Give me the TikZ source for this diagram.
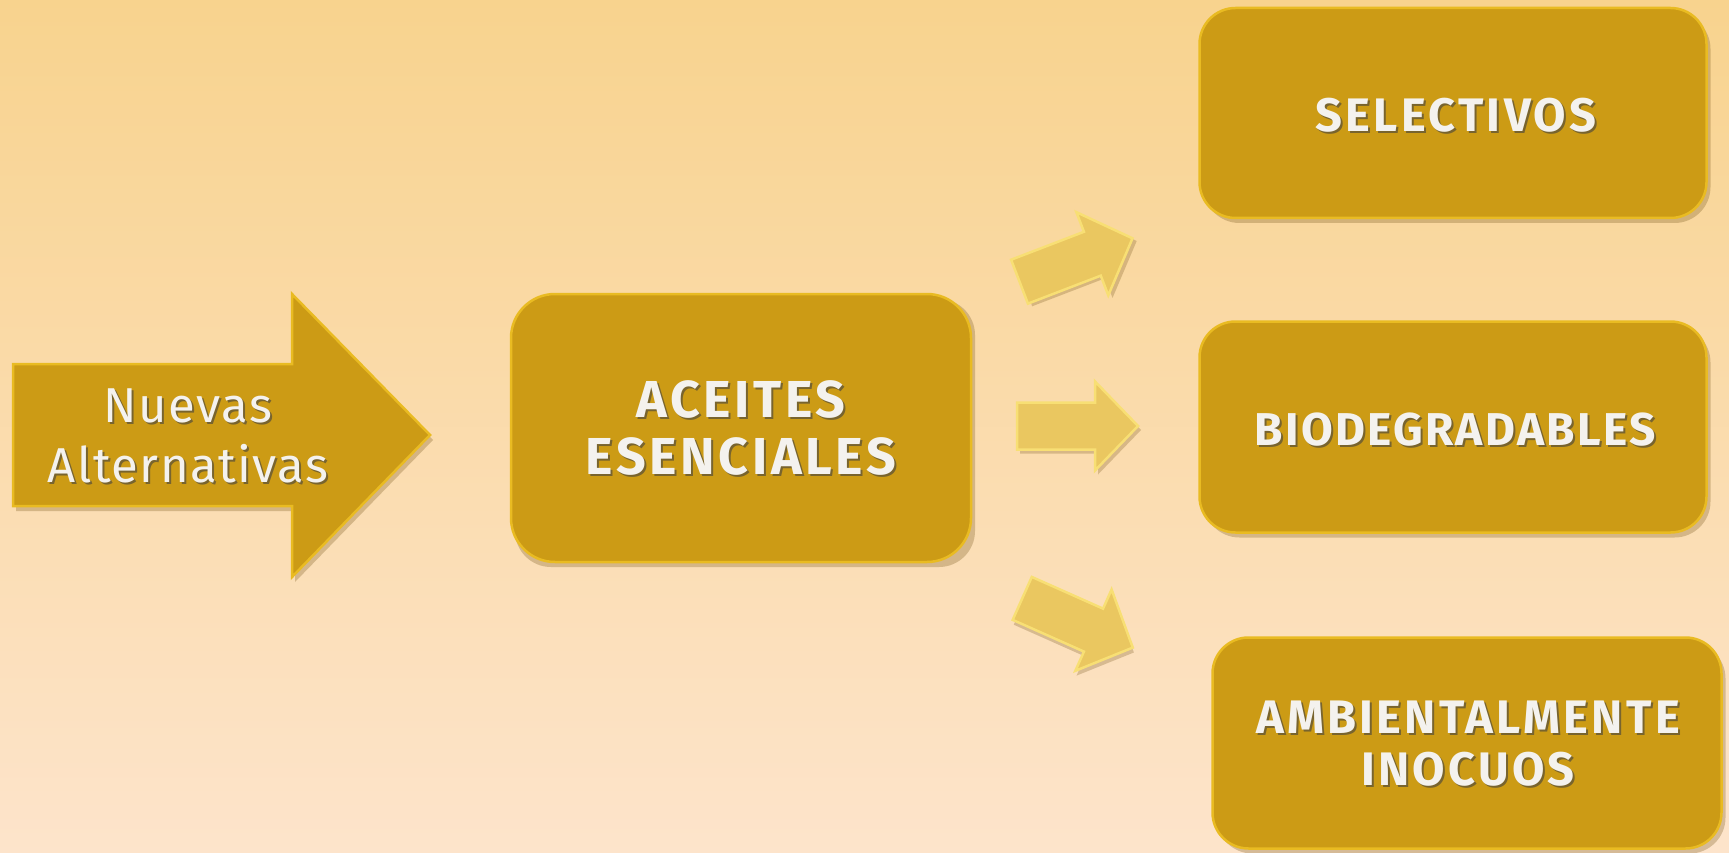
\documentclass[tikz,border=0pt]{standalone}
\usepackage{fontspec}
\setmainfont{Fira Sans}
\newfontfamily\capsfont[LetterSpace=7]{Fira Sans}
\newfontfamily\capsfontb[LetterSpace=5]{Fira Sans}
\newfontfamily\lowfont[LetterSpace=3]{Fira Sans}
\usetikzlibrary{calc}
\definecolor{bgtop}{HTML}{F8D38E}
\definecolor{bgbot}{HTML}{FDE4CB}
\definecolor{gold}{HTML}{CC9B15}
\definecolor{goldedge}{HTML}{E9BB22}
\definecolor{golddark}{HTML}{9C7610}
\definecolor{lgold}{HTML}{EAC760}
\definecolor{lgoldedge}{HTML}{F8DF74}
\definecolor{shadowc}{HTML}{7A5A20}
\definecolor{txtw}{HTML}{F4F2EE}
\tikzset{
  gbox/.style={rectangle, rounded corners=36pt, fill=gold, draw=goldedge, line width=2.5pt, inner sep=0pt},
  gshadow/.style={rectangle, rounded corners=36pt, fill=shadowc, opacity=0.3, inner sep=0pt},
  wtxt/.style={text=txtw, font=\capsfont\bfseries\fontsize{47}{54}\selectfont, align=center, inner sep=0pt},
  stxt/.style={text=black!75, opacity=0.6, font=\capsfont\bfseries\fontsize{47}{54}\selectfont, align=center, inner sep=0pt},
  barrow/.pic={
    \fill[shadowc, opacity=0.28, shift={(3,4)}] (-60.5,-23.5) -- (17.5,-23.5) -- (17.5,-44.5) -- (60.5,0) -- (17.5,44.5) -- (17.5,23.5) -- (-60.5,23.5) -- cycle;
    \path[fill=lgold, draw=lgoldedge, line width=2.5pt, line join=miter] (-60.5,-23.5) -- (17.5,-23.5) -- (17.5,-44.5) -- (60.5,0) -- (17.5,44.5) -- (17.5,23.5) -- (-60.5,23.5) -- cycle;
  }
}
\begin{document}
\begin{tikzpicture}[x=1pt, y=-1pt]
\useasboundingbox (0,0) rectangle (1729,853);
\shade[top color=bgtop, bottom color=bgbot] (0,0) rectangle (1729,853);

% big arrow
\fill[shadowc, opacity=0.3, shift={(3,5)}] (13,364) -- (292,364) -- (292,294) -- (430,435) -- (292,577) -- (292,506) -- (13,506) -- cycle;
\path[fill=gold, draw=goldedge, line width=2.5pt, line join=miter] (13,364) -- (292,364) -- (292,294) -- (430,435) -- (292,577) -- (292,506) -- (13,506) -- cycle;
\node[stxt, font=\lowfont\fontsize{49}{60}\selectfont] (nuevas-s) at (190,438) {Nuevas\\Alternativas};
\node[wtxt, font=\lowfont\fontsize{49}{60}\selectfont] (nuevas) at (188,436) {Nuevas\\Alternativas};

% central box
\node[gshadow, minimum width=460pt, minimum height=268pt] (ace-s) at (745,433) {};
\node[gbox, rounded corners=44pt, minimum width=460pt, minimum height=268pt] (ace) at (741,428) {};
\node[stxt, font=\capsfont\bfseries\fontsize{52}{57}\selectfont] (ace-ts) at ([shift={(2,2)}]ace.center) {ACEITES\\ESENCIALES};
\node[wtxt, font=\capsfont\bfseries\fontsize{52}{57}\selectfont] (ace-t) at (ace.center) {ACEITES\\ESENCIALES};

% right boxes
\node[gshadow, minimum width=507pt, minimum height=210pt] (sel-s) at (1457,118) {};
\node[gbox, minimum width=507pt, minimum height=210pt] (sel) at (1453,113) {};
\node[stxt] (sel-ts) at ([shift={(2,2)}]1456,115) {SELECTIVOS};
\node[wtxt] (sel-t) at (1456,115) {SELECTIVOS};

\node[gshadow, minimum width=507pt, minimum height=211pt] (bio-s) at (1457,432) {};
\node[gbox, minimum width=507pt, minimum height=211pt] (bio) at (1453,427) {};
\node[stxt, font=\capsfontb\bfseries\fontsize{46}{54}\selectfont] (bio-ts) at ([shift={(2,2)}]1455,430) {BIODEGRADABLES};
\node[wtxt, font=\capsfontb\bfseries\fontsize{46}{54}\selectfont] (bio-t) at (1455,430) {BIODEGRADABLES};

\node[gshadow, minimum width=509pt, minimum height=211pt] (amb-s) at (1471,748) {};
\node[gbox, minimum width=509pt, minimum height=211pt] (amb) at (1467,743) {};
\node[stxt, font=\capsfont\bfseries\fontsize{47}{52}\selectfont] (amb-ts) at ([shift={(2,2)}]1468,744) {AMBIENTALMENTE\\INOCUOS};
\node[wtxt, font=\capsfont\bfseries\fontsize{47}{52}\selectfont] (amb-t) at (1468,744) {AMBIENTALMENTE\\INOCUOS};

% small arrows
\pic[rotate=21] (a1) at (1076,260) {barrow};
\pic (a2) at (1077.5,426) {barrow};
\pic[rotate=-24] (a3) at (1077.5,623) {barrow};
\end{tikzpicture}
\end{document}
